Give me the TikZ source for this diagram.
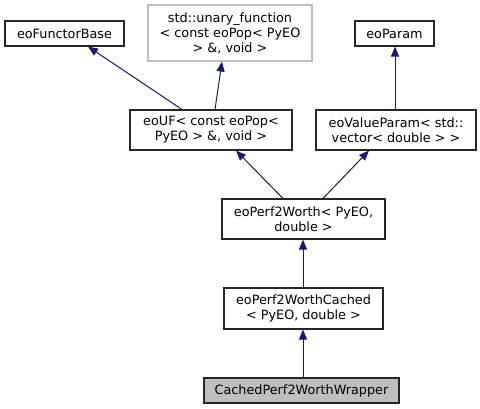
\documentclass[tikz,border=0pt]{standalone}
\usepackage{fontspec}
\setmainfont{DejaVu Sans}
\usetikzlibrary{arrows.meta}
\definecolor{edgeblue}{HTML}{191970}
\definecolor{lightgr}{HTML}{BFBFBF}
\begin{document}
\begin{tikzpicture}[x=1pt,y=-1pt,
  box/.style={draw=black!85,line width=1.1pt,inner sep=0pt,align=center,
    font=\fontsize{12.8}{15}\selectfont},
  arr/.style={draw=edgeblue,line width=1pt,-{Triangle[length=10pt,width=8pt]}}]
\useasboundingbox (0,0) rectangle (480,409);
\node[box,minimum width=119pt,minimum height=25pt] (fb) at (64.5,33.5) {eoFunctorBase};
\node[box,draw=lightgr,minimum width=164pt,minimum height=56pt] (un) at (230,33) {std::unary\_function\\< const eoPop< PyEO\\> \&, void >};
\node[box,minimum width=79pt,minimum height=25pt] (par) at (394.5,33.5) {eoParam};
\node[box,minimum width=162pt,minimum height=40pt] (uf) at (211,130) {eoUF< const eoPop<\\PyEO > \&, void >};
\node[box,minimum width=160pt,minimum height=40pt] (vp) at (396,130) {eoValueParam< std::\\vector< double > >};
\node[box,minimum width=163pt,minimum height=40pt] (pw) at (303.5,219) {eoPerf2Worth< PyEO,\\double >};
\node[box,minimum width=159pt,minimum height=41pt] (pc) at (303.5,308.5) {eoPerf2WorthCached\\< PyEO, double >};
\node[box,fill=lightgr,minimum width=195pt,minimum height=25pt] (wr) at (301.5,390.5) {CachedPerf2WorthWrapper};
\draw[arr] ([xshift=-29pt]uf.north) -- ([xshift=23.5pt]fb.south);
\draw[arr] ([xshift=4pt]uf.north) -- ([xshift=-8pt]un.south);
\draw[arr] ([xshift=-1pt]vp.north) -- ([xshift=0.5pt]par.south);
\draw[arr] ([xshift=-20.5pt]pw.north) -- ([xshift=25pt]uf.south);
\draw[arr] ([xshift=19.5pt]pw.north) -- ([xshift=-27pt]vp.south);
\draw[arr] ([xshift=-0.5pt]pc.north) -- ([xshift=-0.5pt]pw.south);
\draw[arr] ([xshift=1.5pt]wr.north) -- ([xshift=-0.5pt]pc.south);
\end{tikzpicture}
\end{document}
